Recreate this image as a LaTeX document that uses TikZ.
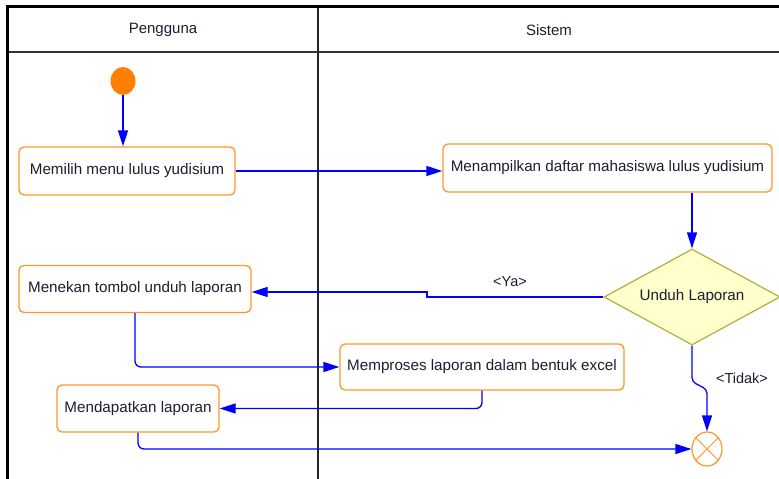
\documentclass[tikz,border=0pt]{standalone}
\usepackage{fontspec}
\setmainfont{Liberation Sans}
\usetikzlibrary{shapes.geometric,arrows.meta}
\definecolor{uorange}{RGB}{255,128,0}
\definecolor{uboxline}{RGB}{255,150,40}
\definecolor{dfill}{RGB}{255,255,204}
\definecolor{dline}{RGB}{176,176,64}
\definecolor{ublue}{RGB}{0,0,255}
\definecolor{utext}{RGB}{30,30,50}
\tikzset{
 actbox/.style={draw=uboxline, line width=1.3pt, rounded corners=5pt, fill=white, inner sep=0pt, text=utext, font=\fontsize{15.2}{18}\selectfont},
 flow/.style={draw=ublue, line width=1.3pt, -{Triangle[length=16pt,width=10pt]}},
 lbl/.style={font=\fontsize{14.5}{17}\selectfont, text=utext},
 lanehead/.style={font=\fontsize{15}{18}\selectfont, text=utext},
}
\begin{document}
\begin{tikzpicture}[x=1pt,y=-1pt]
\useasboundingbox[fill=white] (0,0) rectangle (779,479);
% swimlane frame
\draw[line width=1.4pt, black!80] (7,52) -- (779,52);
\draw[line width=1.2pt, black!85] (318,6) -- (318,479);
\draw[line width=3pt, black] (7,479) -- (7,6) -- (779,6);
\node[lanehead] (hp) at (163,30) {Pengguna};
\node[lanehead] (hs) at (549,30) {Sistem};
% nodes
\node[ellipse, fill=uorange, minimum width=25pt, minimum height=28pt, inner sep=0pt] (start) at (123,81) {};
\node[actbox, minimum width=216pt, minimum height=48pt] (b1) at (127,171) {Memilih menu lulus yudisium};
\node[actbox, minimum width=329pt, minimum height=48pt] (b2) at (607.5,168) {Menampilkan daftar mahasiswa lulus yudisium};
\node[diamond, draw=dline, fill=dfill, line width=1.2pt, minimum width=176pt, minimum height=96pt, inner sep=0pt] (dec) at (692,297) {};
\node[lbl, font=\fontsize{15.2}{18}\selectfont] (dect) at (dec.center) {Unduh Laporan};
\node[actbox, minimum width=232pt, minimum height=47pt] (b3) at (135,289) {Menekan tombol unduh laporan};
\node[actbox, minimum width=284pt, minimum height=46pt] (b4) at (482,367) {Memproses laporan dalam bentuk excel};
\node[actbox, minimum width=162pt, minimum height=47pt] (b5) at (138,408.5) {Mendapatkan laporan};
\node[ellipse, draw=uboxline, line width=1.2pt, fill=white, minimum width=30pt, minimum height=34pt, inner sep=0pt] (fin) at (707,449) {};
\draw[draw=uboxline, line width=1pt] (fin.45) -- (fin.225) (fin.135) -- (fin.315);
% connectors
\draw[flow] (start.south) -- (start.south |- b1.north);
\draw[flow] (b1.east) -- (b1.east -| b2.west);
\draw[flow] (b2.south -| dec.north) -- (dec.north);
\coordinate (ya) at (427,292);
\draw[flow] (dec.west) -- (dec.west -| ya) -- (ya) -- (ya -| b3.east);
\node[lbl] (yal) at (510,282) {<Ya>};
\draw[flow, rounded corners=6pt] (b3.south) |- (b4.west);
\draw[flow, rounded corners=6pt] (b4.south) |- (b5.east);
\draw[flow, rounded corners=6pt] (b5.south) |- (fin.west);
\draw[flow, rounded corners=4pt] (dec.south) -- ++(0,36) -- ++(15,8) -- (fin.north);
\node[lbl] (tl) at (742,378) {<Tidak>};
\end{tikzpicture}
\end{document}
